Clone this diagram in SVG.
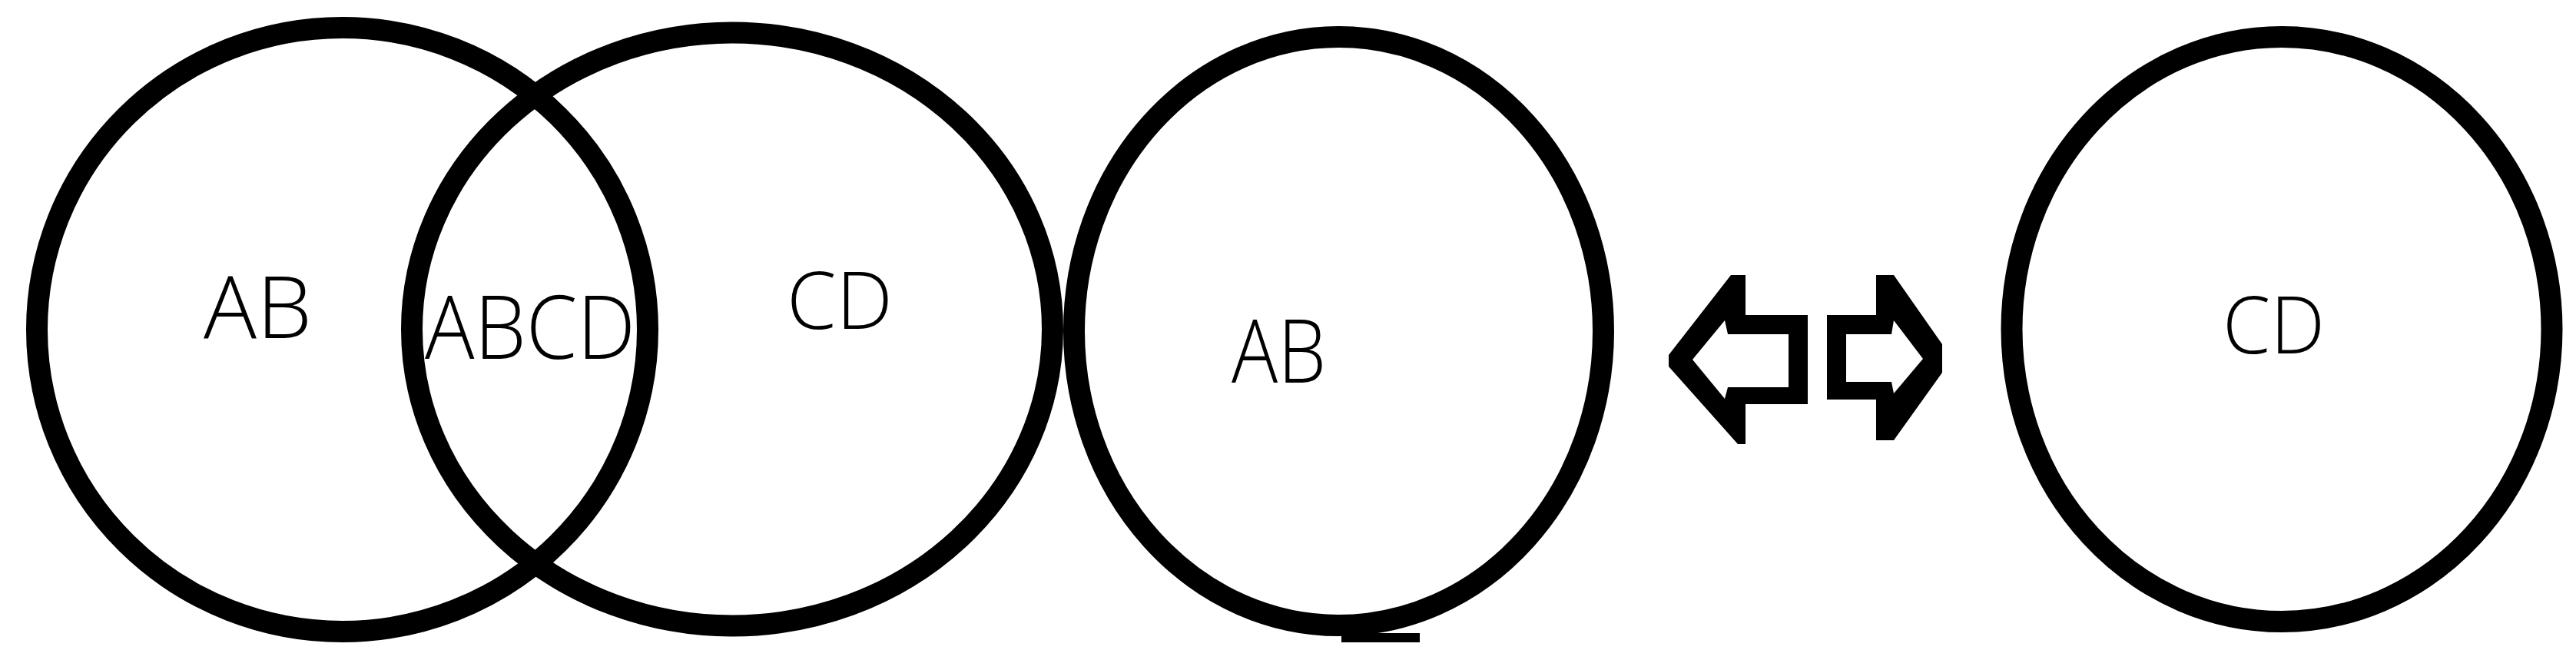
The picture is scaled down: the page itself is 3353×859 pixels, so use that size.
<svg xmlns="http://www.w3.org/2000/svg" width="3353" height="859" viewBox="0 0 3353 859">
  <style>
    .ring { fill: none; stroke: #000; stroke-width: 28; }
    .lbl { font-family: "Open Sans", "Liberation Sans", Arial, sans-serif; fill: #000; font-weight: 300; }
    .arrow { fill: #000; fill-rule: evenodd; }
  </style>
  <rect x="0" y="0" width="3353" height="859" fill="#fff"/>
  <g id="set-ab-left">
    <ellipse class="ring" cx="445.5" cy="429" rx="397.5" ry="393"/>
    <text class="lbl" x="265" y="440" font-size="112" textLength="141" lengthAdjust="spacingAndGlyphs">AB</text>
  </g>
  <g id="set-cd-left">
    <ellipse class="ring" cx="953" cy="428.5" rx="417" ry="386"/>
    <text class="lbl" x="1024" y="428" font-size="104" textLength="138" lengthAdjust="spacingAndGlyphs">CD</text>
  </g>
  <g id="intersection-abcd">
    <text class="lbl" x="553" y="467" font-size="114" textLength="274" lengthAdjust="spacingAndGlyphs">ABCD</text>
  </g>
  <g id="set-ab-right">
    <ellipse class="ring" cx="1742.5" cy="431" rx="344.5" ry="383"/>
    <rect x="1746" y="824" width="102" height="12" fill="#000"/>
    <text class="lbl" x="1603" y="498" font-size="114" textLength="123" lengthAdjust="spacingAndGlyphs">AB</text>
  </g>
  <g id="set-cd-right">
    <ellipse class="ring" cx="2970" cy="428.5" rx="351.5" ry="380.5"/>
    <text class="lbl" x="2893" y="460" font-size="104" textLength="133" lengthAdjust="spacingAndGlyphs">CD</text>
  </g>
  <g id="connectors">
    <path class="arrow" d="M2172,462 L2253,358 L2272,358 L2272,410 L2353,410 L2353,526 L2272,526 L2272,578 L2262,578 L2172,477 Z M2203,468 L2245,417 L2249,435 L2328,435 L2328,504 L2249,504 L2245,519 Z"/>
    <path class="arrow" d="M2378,410 L2442,410 L2442,358 L2465,358 L2528,448 L2528,485 L2465,573 L2442,573 L2442,520 L2378,520 Z M2403,435 L2462,435 L2465,417 L2503,467 L2465,512 L2462,497 L2403,497 Z"/>
  </g>
</svg>
